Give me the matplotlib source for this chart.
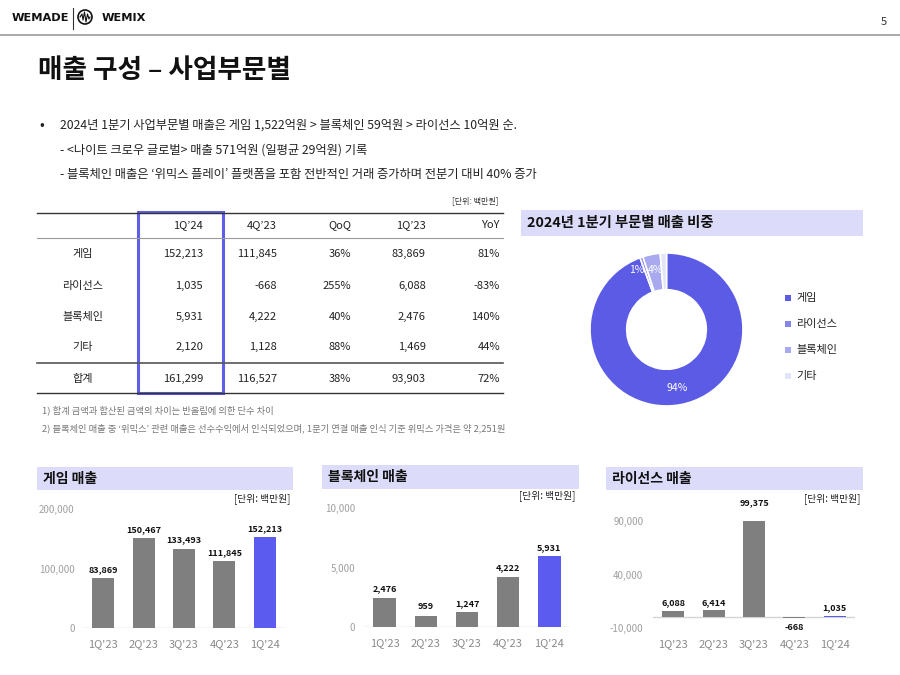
import matplotlib
matplotlib.use("Agg")
import matplotlib.pyplot as plt
from matplotlib.patches import Rectangle, Circle

plt.rcParams['font.family'] = ['Noto Sans CJK KR', 'DejaVu Sans']

W, H = 900, 675

# table data
row_labels = ['게임', '라이선스', '블록체인', '기타', '합계']
col_labels = ['1Q’24', '4Q’23', 'QoQ', '1Q’23', 'YoY']
q1_24 = [152213, 1035, 5931, 2120, 161299]
q4_23 = [111845, -668, 4222, 1128, 116527]
qoq = ['36%', '255%', '40%', '88%', '38%']
q1_23 = [83869, 6088, 2476, 1469, 93903]
yoy = ['81%', '-83%', '140%', '44%', '72%']

# donut data
seg_names = ['게임', '라이선스', '블록체인', '기타']
seg_values = [152213, 1035, 5931, 2120]
seg_labels = ['94%', '1%', '4%', '']

# bar charts
quarters = ["1Q'23", "2Q'23", "3Q'23", "4Q'23", "1Q'24"]
game_rev = [83869, 150467, 133493, 111845, 152213]
chain_rev = [2476, 959, 1247, 4222, 5931]
license_rev = [6088, 6414, 99375, -668, 1035]

bullets = [
    '2024년 1분기 사업부문별 매출은 게임 1,522억원 > 블록체인 59억원 > 라이선스 10억원 순.',
    '- <나이트 크로우 글로벌> 매출 571억원 (일평균 29억원) 기록',
    '- 블록체인 매출은 ‘위믹스 플레이’ 플랫폼을 포함 전반적인 거래 증가하며 전분기 대비 40% 증가',
]
notes = [
    '1) 합계 금액과 합산된 금액의 차이는 반올림에 의한 단수 차이',
    '2) 블록체인 매출 중 ‘위믹스’ 관련 매출은 선수수익에서 인식되었으며, 1분기 연결 매출 인식 기준 위믹스 가격은 약 2,251원',
]

PURPLE = '#5b5bf0'
BOXBG = '#dcdcfa'
GRAY = '#7f7f7f'
TXT = '#222222'

fig = plt.figure(figsize=(9, 6.75), dpi=100)
fig.patch.set_facecolor('white')


def px_axes(x0, y0, x1, y1):
    return fig.add_axes([x0 / W, 1 - y1 / H, (x1 - x0) / W, (y1 - y0) / H])


ov = fig.add_axes([0, 0, 1, 1])
ov.set_xlim(0, W)
ov.set_ylim(H, 0)
ov.axis('off')

# header / logo
ov.text(12, 18, 'WEMADE', fontsize=8.2, fontweight='bold', family='DejaVu Sans', va='center', color='#111')
ov.plot([73, 73], [8, 29], color='#333', lw=0.8)
ov.add_patch(Circle((85, 17), 7, fill=False, ec='#111', lw=1.2))
ov.plot([80, 82, 83, 84.5, 86, 87.5, 89, 90], [17, 14, 20, 12, 22, 14, 19, 17], color='#111', lw=0.8)
ov.text(102, 18, 'WEMIX', fontsize=8.2, fontweight='bold', family='DejaVu Sans', va='center', color='#111')
ov.text(884, 22, '5', fontsize=8, ha='center', va='center', color='#333')
ov.plot([0, 900], [35, 35], color='#9a9a9a', lw=1.2)

ov.text(38, 70, '매출 구성 – 사업부문별', fontsize=19.2, fontweight='bold', va='center', color='#111')

# bullet text
ov.text(42, 125, '•', fontsize=10, va='center', ha='center', color=TXT)
ov.text(60, 125, bullets[0], fontsize=8.85, va='center', color=TXT)
ov.text(60, 150, bullets[1], fontsize=8.85, va='center', color=TXT)
ov.text(60, 174, bullets[2], fontsize=8.85, va='center', color=TXT)

# table
ov.text(498, 201, '[단위: 백만원]', fontsize=5.8, ha='right', va='center', color='#333')
ov.plot([37, 503], [213, 213], color='#333', lw=1)
ov.plot([37, 503], [238, 238], color='#999', lw=0.8)
ov.plot([37, 503], [363, 363], color='#555', lw=1.2)
ov.plot([37, 503], [393, 393], color='#333', lw=1)
col_right = [203, 277, 351, 426, 500]
row_y = [254, 286, 317, 347, 379]
for x, lab in zip(col_right, col_labels):
    ov.text(x, 225, lab, fontsize=8, ha='right', va='center', color=TXT)
for i, lab in enumerate(row_labels):
    y = row_y[i]
    ov.text(83, y, lab, fontsize=8, ha='center', va='center', color=TXT)
    vals = [f'{q1_24[i]:,}', f'{q4_23[i]:,}', qoq[i], f'{q1_23[i]:,}', yoy[i]]
    for x, v in zip(col_right, vals):
        ov.text(x, y, v, fontsize=8, ha='right', va='center', color=TXT)
ov.add_patch(Rectangle((138, 212), 85, 181, fill=False, ec='#5e5ee6', lw=2.2))
ov.text(42, 410, notes[0], fontsize=6.7, va='center', color='#777')
ov.text(42, 428, notes[1], fontsize=6.7, va='center', color='#777')

# donut block
ov.add_patch(Rectangle((521, 210), 342, 26, color=BOXBG, lw=0))
ov.text(527, 223, '2024년 1분기 부문별 매출 비중', fontsize=10.3, fontweight='bold', va='center', color='#111')

seg_colors = ['#5b5be6', '#8585ea', '#a9a9f0', '#e4e4f8']
pax = px_axes(590, 253, 743, 406)
pax.pie(seg_values, colors=seg_colors, startangle=90, counterclock=False,
        radius=1, wedgeprops=dict(width=0.48, edgecolor='white', linewidth=1.2))
pax.set_xlim(-1, 1)
pax.set_ylim(-1, 1)
pax.set_aspect('equal')
pax.axis('off')
# labels sit on top of the donut, placed in page pixels
label_pos = [(677, 388), (637, 270), (656, 270)]
for (lx, ly), lab in zip(label_pos, seg_labels):
    pax.text(lx, ly, lab, fontsize=7.5, ha='center', va='center', color='white',
             transform=ov.transData, zorder=5)
for k, name in enumerate(seg_names):
    y = 298 + 26 * k
    ov.add_patch(Rectangle((785, y - 3), 6, 6, color=seg_colors[k], lw=0))
    ov.text(796, y, name, fontsize=8, va='center', color=TXT)


def bar_panel(box, title, unit_xy, ax_ext, vals, ylim, yticks, ytick_lbls, pad_y):
    bx0, by0, bx1, by1 = box
    ov.add_patch(Rectangle((bx0, by0), bx1 - bx0, by1 - by0, color=BOXBG, lw=0))
    ov.text(bx0 + 6, (by0 + by1) / 2, title, fontsize=10, fontweight='bold', va='center', color='#111')
    ov.text(unit_xy[0], unit_xy[1], '[단위: 백만원]', fontsize=7, ha='right', va='center', color='#222')
    ax = px_axes(*ax_ext)
    cols = [GRAY] * (len(vals) - 1) + [PURPLE]
    x = range(len(vals))
    ax.bar(x, vals, width=0.54, color=cols, zorder=2)
    ax.axhline(0, color='#d4d4d4', lw=1, zorder=1)
    ax.set_xlim(-0.5, len(vals) - 0.5)
    ax.set_ylim(*ylim)
    ax.set_yticks(yticks)
    ax.set_yticklabels(ytick_lbls)
    ax.set_xticks(list(x))
    ax.set_xticklabels(quarters)
    ax.tick_params(axis='y', length=0, labelsize=7, labelcolor='#a0a0a0', pad=pad_y)
    ax.tick_params(axis='x', length=0, labelsize=8, labelcolor='#8a8a8a', pad=8)
    for s in ax.spines.values():
        s.set_visible(False)
    ax.patch.set_alpha(0)
    span = ylim[1] - ylim[0]
    for xi, v in zip(x, vals):
        if v >= 0:
            ax.text(xi, v + span * 0.035, f'{v:,}', fontsize=6.5, fontweight='bold',
                    ha='center', va='bottom', color='#111')
        else:
            ax.text(xi, v - span * 0.05, f'{v:,}', fontsize=6.5, fontweight='bold',
                    ha='center', va='top', color='#111')
    return ax


bar_panel((37, 467, 293, 490), '게임 매출', (290, 499), (83, 509, 285, 628),
          game_rev, (0, 200000), [0, 100000, 200000], ['0', '100,000', '200,000'], 6)
bar_panel((322, 465, 579, 489), '블록체인 매출', (575, 496), (364, 508, 570, 627),
          chain_rev, (0, 10000), [0, 5000, 10000], ['0', '5,000', '10,000'], 6.5)
bar_panel((606, 467, 863, 490), '라이선스 매출', (860, 499), (653, 521, 855, 628),
          license_rev, (-10000, 90000), [-10000, 40000, 90000], ['-10,000', '40,000', '90,000'], 7)

fig.savefig('out.png', dpi=100)
